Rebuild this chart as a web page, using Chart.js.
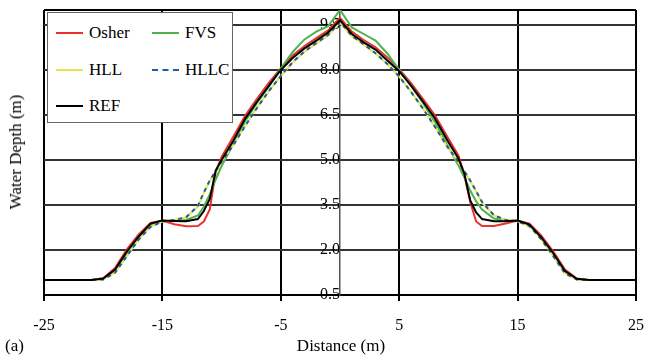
<!DOCTYPE html>
<html>
<head>
<meta charset="utf-8">
<script src="https://cdn.jsdelivr.net/npm/chart.js@4"></script>
<style>
body{margin:0;background:#fff;}
#wrap{position:relative;width:646px;height:363px;font-family:"Liberation Serif","Times New Roman",serif;color:#000;}
#legend{position:absolute;left:47px;top:12px;width:186px;height:111px;border:1px solid #666;background:#fff;box-sizing:border-box;}
.item{position:absolute;font-size:17px;line-height:20px;height:20px;}
.item span.ln{position:absolute;left:0;top:9px;width:27px;height:0;border-top:2px solid #000;}
.item span.tx{position:absolute;left:33px;top:0;white-space:nowrap;}
.ttl{position:absolute;font-size:17px;white-space:nowrap;}
</style>
</head>
<body>
<div id="wrap">
<canvas id="chart" width="646" height="363"></canvas>
<div id="legend"></div>
<div class="ttl" id="ytitle" style="left:16px;top:152px;transform:translate(-50%,-50%) rotate(-90deg);">Water Depth (m)</div>
<div class="ttl" style="left:341px;top:346px;transform:translate(-50%,-50%);">Distance (m)</div>
<div class="ttl" style="left:5px;top:346px;transform:translate(0,-50%);">(a)</div>
</div>
<script>
// x positions (m)
const xs=[-25,-24,-23,-22,-21,-20,-19,-18,-17,-16,-15,-14,-13,-12,-11.5,-11,-10.5,
-10,-9,-8,-7,-6,-5,-4,-3,-2,-1,0,1,2,3,4,5,6,7,8,9,10,
10.5,11,11.5,12,13,14,15,16,17,18,19,20,21,22,23,24,25];

// water depth (m) for each scheme
const osher=[1.0,1.0,1.0,1.0,1.0,1.06,1.4,2.02,2.52,2.9,2.98,2.86,2.79,2.8,2.95,3.35,4.6,
5.1,5.78,6.48,7.05,7.58,8.05,8.48,8.8,9.06,9.32,9.74,9.28,9.0,8.76,8.42,8.03,7.56,7.04,6.5,5.82,5.15,
4.5,3.6,2.95,2.8,2.8,2.88,2.98,2.88,2.48,1.96,1.35,1.05,1.0,1.0,1.0,1.0,1.0];
const fvs=[1.0,1.0,1.0,1.0,1.0,1.04,1.3,1.88,2.4,2.82,2.97,2.97,3.0,3.15,3.44,3.85,4.35,
4.8,5.55,6.3,6.9,7.45,8.05,8.6,9.02,9.28,9.46,10.0,9.42,9.2,8.98,8.55,8.0,7.48,6.9,6.28,5.55,4.82,
4.42,3.98,3.62,3.35,3.05,2.98,2.97,2.82,2.4,1.88,1.28,1.03,1.0,1.0,1.0,1.0,1.0];
const hll=[1.0,1.0,1.0,1.0,1.0,1.02,1.25,1.8,2.36,2.78,2.95,3.0,3.08,3.45,3.9,4.3,4.62,
4.95,5.5,6.15,6.75,7.3,7.8,8.25,8.6,8.88,9.15,9.58,9.12,8.84,8.55,8.2,7.78,7.28,6.72,6.12,5.48,4.92,
4.62,4.3,3.95,3.58,3.15,3.0,2.96,2.8,2.36,1.8,1.22,1.02,1.0,1.0,1.0,1.0,1.0];
const hllc=[1.0,1.0,1.0,1.0,1.0,1.02,1.24,1.8,2.35,2.77,2.95,3.0,3.09,3.47,3.92,4.32,4.63,
4.95,5.5,6.14,6.74,7.3,7.8,8.26,8.62,8.9,9.17,9.6,9.14,8.86,8.56,8.2,7.78,7.27,6.72,6.12,5.48,4.93,
4.63,4.32,3.96,3.6,3.16,3.0,2.96,2.8,2.35,1.8,1.22,1.02,1.0,1.0,1.0,1.0,1.0];
const ref=[1.0,1.0,1.0,1.0,1.0,1.05,1.35,1.95,2.45,2.88,2.98,2.97,2.96,3.03,3.3,3.7,4.65,
5.0,5.65,6.38,6.95,7.48,8.0,8.4,8.72,8.98,9.25,9.66,9.2,8.92,8.68,8.32,7.96,7.48,6.95,6.4,5.7,5.05,
4.55,3.65,3.25,3.03,2.96,2.96,2.98,2.85,2.42,1.9,1.3,1.04,1.0,1.0,1.0,1.0,1.0];

const xTicks=[-25,-15,-5,5,15,25];
const yTicks=[0.5,2.0,3.5,5.0,6.5,8.0,9.5];

const series=[
    {label:"Osher",data:osher,color:"#e8322b",dash:[],order:4},
    {label:"FVS",data:fvs,color:"#4db34a",dash:[],order:3},
    {label:"HLL",data:hll,color:"#e6e64a",dash:[],order:2},
    {label:"HLLC",data:hllc,color:"#1f5aa8",dash:[4,4],order:1},
    {label:"REF",data:ref,color:"#000000",dash:[],order:0}
];

const pts=arr=>arr.map((y,i)=>({x:xs[i],y:y}));

// top border of the plot box
const frame={
    id:"frame",
    beforeDatasetsDraw(chart){
        const a=chart.chartArea,ctx=chart.ctx;
        ctx.save();
        ctx.strokeStyle="#000";
        ctx.lineWidth=2;
        ctx.beginPath();
        ctx.moveTo(a.left,a.top);
        ctx.lineTo(a.right,a.top);
        ctx.stroke();
        ctx.restore();
    }
};

new Chart(document.getElementById("chart"),{
    type:"line",
    data:{
        datasets:series.map(s=>({
            label:s.label,
            data:pts(s.data),
            borderColor:s.color,
            backgroundColor:s.color,
            borderDash:s.dash,
            borderWidth:2,
            pointRadius:0,
            tension:0,
            fill:false,
            order:s.order
        }))
    },
    options:{
        responsive:false,
        devicePixelRatio:1,
        animation:false,
        layout:{padding:{left:44,right:10,top:10,bottom:32}},
        plugins:{legend:{display:false},tooltip:{enabled:false}},
        scales:{
            x:{
                type:"linear",min:-25,max:25,
                afterBuildTicks:sc=>{sc.ticks=xTicks.map(v=>({value:v}));},
                afterFit:sc=>{sc.height=36;sc.paddingLeft=0;sc.paddingRight=0;},
                grid:{color:"#000",lineWidth:2,tickLength:6},
                border:{display:true,color:"#000",width:2},
                ticks:{color:"#000",padding:15,maxRotation:0,font:{family:"Liberation Serif",size:16}}
            },
            y:{
                type:"linear",min:0.5,max:10,
                position:{x:0},
                afterBuildTicks:sc=>{sc.ticks=yTicks.map(v=>({value:v}));},
                afterFit:sc=>{sc.paddingTop=0;sc.paddingBottom=0;sc.paddingLeft=0;sc.paddingRight=0;},
                grid:{color:"#333",lineWidth:2,tickLength:5},
                border:{display:true,color:"#555",width:1.5},
                ticks:{color:"#000",padding:1,font:{family:"Liberation Serif",size:16},
                    callback:v=>Number(v).toFixed(1)}
            }
        }
    },
    plugins:[frame]
});

// legend inside the plot box
const legend=document.getElementById("legend");
const spots=[[8,10],[104,10],[8,47],[104,47],[8,83]];
series.forEach((s,i)=>{
    const d=document.createElement("div");
    d.className="item";
    d.style.left=spots[i][0]+"px";
    d.style.top=spots[i][1]+"px";
    const ln=document.createElement("span");
    ln.className="ln";
    ln.style.borderTopColor=s.color;
    if(s.dash.length) ln.style.borderTopStyle="dashed";
    const tx=document.createElement("span");
    tx.className="tx";
    tx.innerText=s.label;
    d.appendChild(ln);d.appendChild(tx);
    legend.appendChild(d);
});
</script>
</body>
</html>
